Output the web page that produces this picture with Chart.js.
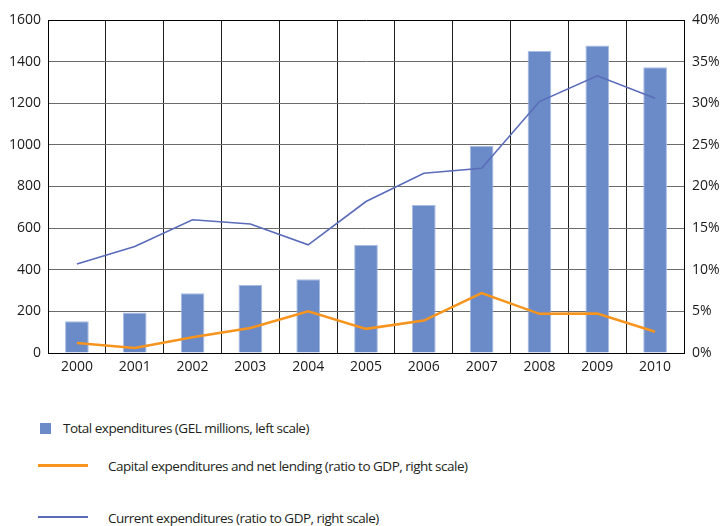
<!DOCTYPE html>
<html>
<head>
<meta charset="utf-8">
<script src="https://cdn.jsdelivr.net/npm/chart.js@4"></script>
<style>
  html, body { margin: 0; padding: 0; background: #fff; }
  #wrap { position: relative; width: 722px; height: 526px; }
  #c { position: absolute; left: 0; top: 0; }
  .leg { position: absolute; font-family: "Open Sans", sans-serif; font-size: 13.5px; letter-spacing: -0.5px; color: #231f20; white-space: nowrap; line-height: 18px; }
  .mk { position: absolute; }
</style>
</head>
<body>
<div id="wrap">
  <canvas id="c" width="722" height="390"></canvas>
  <div id="legend"></div>
</div>
<script>
const years = ["2000","2001","2002","2003","2004","2005","2006","2007","2008","2009","2010"];
const totalExpenditures = [152, 195, 287, 327, 354, 519, 711, 996, 1451, 1478, 1373];
const capitalRatio = [1.2, 0.6, 1.9, 3.0, 5.0, 2.9, 3.9, 7.2, 4.7, 4.75, 2.55];
const currentRatio = [10.7, 12.8, 16.0, 15.5, 13.0, 18.2, 21.6, 22.2, 30.2, 33.3, 30.6];
const leftTicks = [0, 200, 400, 600, 800, 1000, 1200, 1400, 1600];
const rightTicks = [0, 5, 10, 15, 20, 25, 30, 35, 40];
const labels = [
  "Total expenditures (GEL millions, left scale)",
  "Capital expenditures and net lending (ratio to GDP, right scale)",
  "Current expenditures (ratio to GDP, right scale)"
];
const barColor = "#6a8bc7";
const orange = "#f7941d";
const blueLine = "#5a6cb9";
const font = { family: "'Open Sans', sans-serif", size: 14 };

const chart = new Chart(document.getElementById("c"), {
  type: "bar",
  data: {
    labels: years,
    datasets: [
      { type: "line", label: labels[1], data: capitalRatio, yAxisID: "y1",
        borderColor: orange, borderWidth: 2.5, pointRadius: 0, tension: 0, order: 1 },
      { type: "line", label: labels[2], data: currentRatio, yAxisID: "y1",
        borderColor: blueLine, borderWidth: 1.6, pointRadius: 0, tension: 0, order: 2 },
      { type: "bar", label: labels[0], data: totalExpenditures, yAxisID: "y",
        backgroundColor: barColor, borderColor: "#a9bce3", borderWidth: 1,
        barPercentage: 0.41, categoryPercentage: 1.0, order: 3 }
    ]
  },
  options: {
    responsive: false,
    animation: false,
    devicePixelRatio: 1,
    layout: { padding: { top: 20, left: 0, right: 0, bottom: 0 } },
    plugins: { legend: { display: false }, tooltip: { enabled: false } },
    scales: {
      x: {
        grid: { color: "#1e1e1e", lineWidth: 1, drawTicks: false, offset: true },
        border: { display: true, color: "#000", width: 1 },
        ticks: { color: "#1a1a1a", font: font, padding: 6, maxRotation: 0 },
        afterFit: (s) => { s.height = 37; }
      },
      y: {
        position: "left", min: 0, max: 1600,
        afterBuildTicks: (s) => { s.ticks = leftTicks.map(v => ({ value: v })); },
        grid: { color: (ctx) => (ctx.tick && (ctx.tick.value === 0 || ctx.tick.value === 1600)) ? "#000" : "#6b6b6b",
                lineWidth: 1, drawTicks: false },
        border: { display: true, color: "#000", width: 1 },
        ticks: { color: "#1a1a1a", font: font, padding: 7, callback: (v) => String(v) },
        afterFit: (s) => { s.width = 48; }
      },
      y1: {
        position: "right", min: 0, max: 40,
        afterBuildTicks: (s) => { s.ticks = rightTicks.map(v => ({ value: v })); },
        grid: { display: false, drawTicks: false },
        border: { display: true, color: "#000", width: 1 },
        ticks: { color: "#1a1a1a", font: font, padding: 8, callback: (v) => v + "%" },
        afterFit: (s) => { s.width = 38; }
      }
    }
  }
});

// HTML legend built from the datasets
const leg = document.getElementById("legend");
const items = [
  { ds: 2, kind: "box", mx: 40, my: 423, tx: 63, ty: 419 },
  { ds: 0, kind: "line", mx: 38, my: 465, tx: 108, ty: 457 },
  { ds: 1, kind: "line", mx: 38, my: 517, tx: 108, ty: 509 }
];
items.forEach(it => {
  const d = chart.data.datasets[it.ds];
  const m = document.createElement("div");
  m.className = "mk";
  if (it.kind === "box") {
    Object.assign(m.style, { left: it.mx + "px", top: it.my + "px", width: "11px", height: "11px", background: d.backgroundColor });
  } else {
    const h = d.borderWidth > 2 ? 3 : 2;
    Object.assign(m.style, { left: it.mx + "px", top: (it.my - h / 2) + "px", width: "50px", height: h + "px", background: d.borderColor });
  }
  leg.appendChild(m);
  const t = document.createElement("div");
  t.className = "leg";
  t.style.left = it.tx + "px";
  t.style.top = it.ty + "px";
  t.textContent = d.label;
  leg.appendChild(t);
});
</script>
</body>
</html>
